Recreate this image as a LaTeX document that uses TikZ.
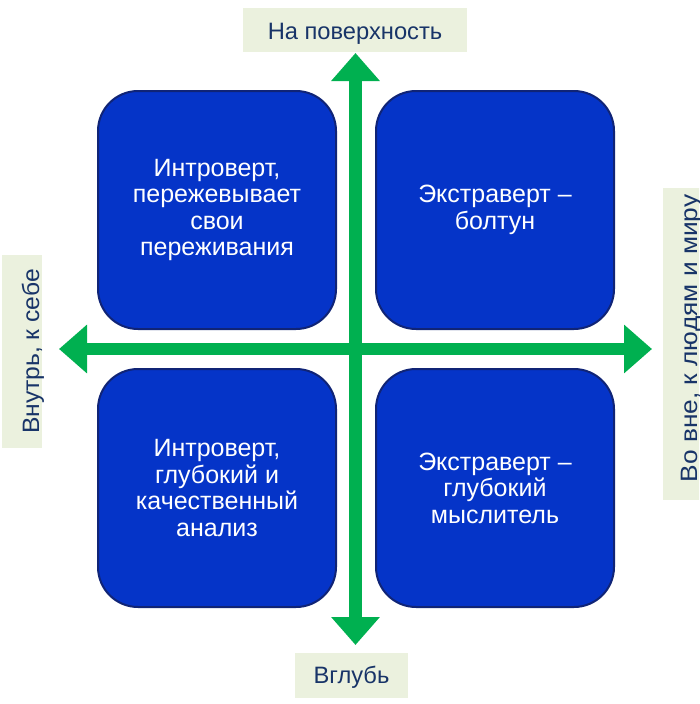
\documentclass[tikz,border=0pt]{standalone}
\usepackage{fontspec}
\setmainfont{Liberation Sans}
\usetikzlibrary{arrows.meta}
\definecolor{boxblue}{RGB}{5,52,200}
\definecolor{boxedge}{RGB}{16,36,118}
\definecolor{arrowgreen}{RGB}{0,176,80}
\definecolor{labelfill}{RGB}{235,241,222}
\definecolor{labeltext}{RGB}{24,52,104}
\begin{document}
\begin{tikzpicture}[x=1pt,y=-1pt,
  quad/.style={draw=boxedge, line width=2pt, fill=boxblue, rounded corners=40pt,
    minimum width=238pt, minimum height=238pt, inner sep=0pt, text=white, align=center,
    font=\fontsize{25}{26.5}\selectfont},
  lbl/.style={fill=labelfill, text=labeltext, inner sep=0pt, text depth=0pt,
    font=\fontsize{23.7}{26}\selectfont},
  axis/.style={draw=arrowgreen, line width=12.5pt,
    {Triangle[width=47pt,length=28pt]}-{Triangle[width=47pt,length=28pt]}}]
\useasboundingbox (0,0) rectangle (699,704);
\clip (0,0) rectangle (699,704);
\node[quad] (tl) at (217,210) {Интроверт,\\пережевывает\\свои\\переживания};
\node[quad] (tr) at (495,210) {Экстраверт –\\болтун};
\node[quad] (bl) at (217,488) {Интроверт,\\глубокий и\\качественный\\анализ};
\node[quad] (br) at (495,488) {Экстраверт –\\глубокий\\мыслитель};
\node[lbl, minimum width=224pt, minimum height=43.5pt, text height=18.6pt] (up) at (355,30) {На поверхность};
\node[lbl, minimum width=113pt, minimum height=45pt, text height=15pt] (down) at (351.5,675.5) {Вглубь};
\node[lbl, rotate=90, minimum width=193pt, minimum height=40pt, text height=34pt] (inward) at (22,351.5) {\scalebox{1.04}[1]{Внутрь, к себе}};
\node[lbl, rotate=90, minimum width=312pt, minimum height=40pt, text height=28.6pt] (outward) at (683,344) {\hspace*{11pt}\scalebox{1.11}[1]{Во вне, к людям и миру}};
\coordinate (n) at (355.5,53);
\coordinate (s) at (355.5,645);
\coordinate (w) at (59,349);
\coordinate (e) at (652,349);
\draw[axis] (s) -- (n);
\draw[axis] (w) -- (e);
\end{tikzpicture}
\end{document}
